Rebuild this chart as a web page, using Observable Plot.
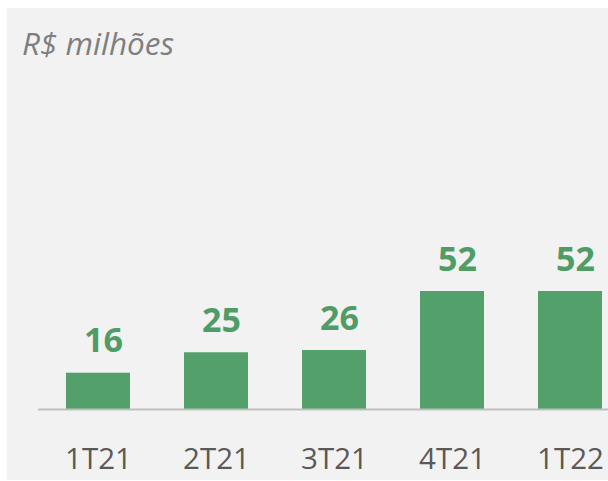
<!DOCTYPE html>
<html>
<head>
<meta charset="utf-8">
<script src="https://cdn.jsdelivr.net/npm/d3@7"></script>
<script src="https://cdn.jsdelivr.net/npm/@observablehq/plot@0.6"></script>
<style>
  html, body { margin: 0; padding: 0; background: #ffffff; overflow: hidden; }
  #panel { position: absolute; left: 7px; top: 8px; width: 601px; height: 472px; background: #f2f2f2; overflow: hidden; }
  #title { position: absolute; left: 15px; top: 15px; font-family: "Open Sans", sans-serif; font-style: italic; font-size: 31.5px; color: #7f7f7f; line-height: 40px; white-space: nowrap; }
  #chart { position: absolute; left: 0; top: 0; }
</style>
</head>
<body>
<div id="panel">
  <div id="title">R$ milhões</div>
  <div id="chart"></div>
</div>
<script>
const periods = ["1T21", "2T21", "3T21", "4T21", "1T22"];
const values = [16, 25, 26, 52, 52];

const data = periods.map((p, i) => ({period: p, value: values[i]}));
const green = "#53a06b";

const plot = Plot.plot({
  width: 601,
  height: 472,
  marginLeft: 31,
  marginRight: 0,
  marginTop: 0,
  marginBottom: 71,
  style: {background: "transparent", fontFamily: "'Open Sans', sans-serif", overflow: "visible"},
  x: {domain: periods, range: [31, 623.5], paddingInner: 0.46, paddingOuter: 0.23, label: null},
  y: {domain: [0, d3.max(values)], range: [401, 283], axis: null},
  marks: [
    Plot.barY(data, {x: "period", y: "value", fill: green}),
    Plot.ruleY([0], {stroke: "#bfbfbf", strokeWidth: 2}),
    Plot.text(data, {x: "period", y: "value", text: d => String(d.value), fill: "#4f9c66", fontSize: 34, fontWeight: "bold", lineAnchor: "bottom", dy: -21, dx: 5}),
    Plot.axisX({tickSize: 0, tickPadding: 39, fontSize: 29.5, color: "#595959", label: null})
  ]
});
document.getElementById("chart").appendChild(plot);
</script>
</body>
</html>
